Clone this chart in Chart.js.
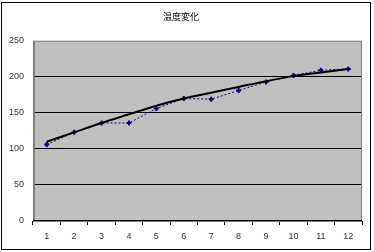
<!DOCTYPE html>
<html>
<head>
<meta charset="utf-8">
<script src="https://cdn.jsdelivr.net/npm/chart.js@4/dist/chart.umd.min.js"></script>
<style>
  html, body { margin: 0; padding: 0; background: #fff; }
  #wrap { width: 374px; height: 252px; }
</style>
</head>
<body>
<div id="wrap"><canvas id="chart" width="374" height="252"></canvas></div>
<script>
/* 温度変化 — measured values + trend line */
const categories = ['1', '2', '3', '4', '5', '6', '7', '8', '9', '10', '11', '12'];
const measured   = [106, 123, 136, 136, 156, 170, 169, 181, 193, 202, 209, 211];
const trend      = [110, 123, 136, 148, 160, 170, 178, 186, 194, 201, 206, 211];
const yTicks     = [0, 50, 100, 150, 200, 250];

const labelFont = { family: "'Liberation Sans', Arial, sans-serif", size: 9 };

// grey plot wall + frame round the chart area and the whole picture
const framePlugin = {
  id: 'frame',
  beforeDraw(chart) {
    const { ctx, chartArea: a } = chart;
    ctx.save();
    ctx.fillStyle = '#fff';
    ctx.fillRect(0, 0, chart.width, chart.height);
    ctx.fillStyle = '#c0c0c0';
    ctx.fillRect(a.left, a.top, a.right - a.left, a.bottom - a.top);
    ctx.restore();
  },
  afterDatasetsDraw(chart) {
    const { ctx, chartArea: a } = chart;
    ctx.save();
    ctx.strokeStyle = '#808080';
    ctx.lineWidth = 1;
    ctx.strokeRect(a.left + 0.5, a.top + 0.5, a.right - a.left - 1, a.bottom - a.top);
    ctx.fillStyle = '#808080';
    ctx.fillRect(a.left, a.top, 2, a.bottom - a.top);
    ctx.fillStyle = '#000';
    ctx.fillRect(a.left, a.bottom - 1, a.right - a.left, 1);
    ctx.strokeStyle = '#000';
    ctx.strokeRect(1.5, 2.5, 369, 247);
    ctx.restore();
  }
};

new Chart(document.getElementById('chart'), {
  type: 'line',
  data: {
    labels: categories,
    datasets: [
      {
        label: 'trend',
        data: trend,
        borderColor: '#000',
        borderWidth: 2,
        pointRadius: 0,
        tension: 0.3,
        fill: false
      },
      {
        label: 'measured',
        data: measured,
        borderColor: '#000080',
        borderWidth: 1,
        borderDash: [2, 2],
        pointStyle: 'cross',
        pointRadius: 2.5,
        pointBorderColor: '#000080',
        pointBorderWidth: 2,
        tension: 0,
        fill: false
      }
    ]
  },
  plugins: [framePlugin],
  options: {
    responsive: false,
    animation: false,
    layout: { padding: { left: 0, right: 12, top: 0, bottom: 0 } },
    plugins: {
      legend: { display: false },
      tooltip: { enabled: false },
      title: {
        display: true,
        text: '温度変化',
        color: '#000',
        font: { family: "'Noto Sans CJK JP', sans-serif", size: 9, weight: 'normal' },
        padding: { top: 11, bottom: 19 }
      }
    },
    scales: {
      x: {
        offset: true,
        grid: { display: true, offset: true, drawOnChartArea: false, color: '#000', tickLength: 4 },
        border: { display: false },
        ticks: { color: '#333', font: labelFont, padding: 6, maxRotation: 0 },
        afterFit: s => { s.height = 31; }
      },
      y: {
        min: 0,
        max: 250,
        afterBuildTicks: s => { s.ticks = yTicks.map(v => ({ value: v })); },
        grid: { color: ctx => (ctx.tick && ctx.tick.value > 0 && ctx.tick.value < 250) ? '#000' : 'rgba(0,0,0,0)', drawTicks: false, lineWidth: 1 },
        border: { display: false },
        ticks: { color: '#333', font: labelFont, padding: 9 },
        afterFit: s => { s.width = 33; }
      }
    }
  }
});
</script>
</body>
</html>
